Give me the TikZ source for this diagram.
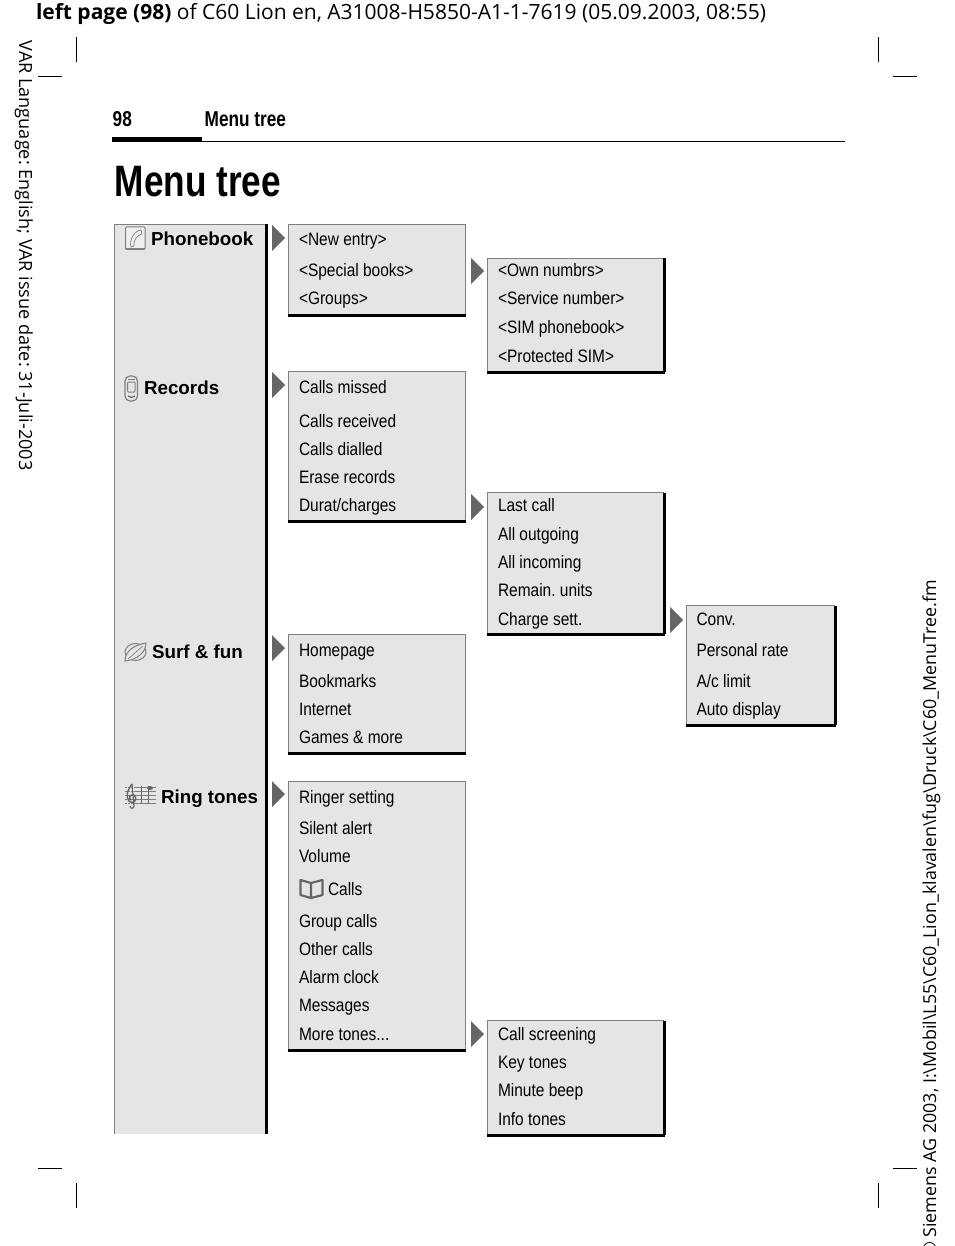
\documentclass[tikz,border=0pt]{standalone}
\usepackage{fontspec}
\setmainfont{Liberation Sans}
\newfontfamily\narrowf[FakeStretch=0.86]{Liberation Sans}
\newfontfamily\narrowb[FakeStretch=0.80]{Liberation Sans Bold}
\newfontfamily\headf{Open Sans}
\definecolor{panel}{HTML}{E5E5E5}
\definecolor{edge}{HTML}{808080}
\definecolor{tri}{HTML}{666666}
\tikzset{
  item/.style={anchor=base west,inner sep=0pt,outer sep=0pt,font=\narrowf\frenchspacing\fontsize{18}{20}\selectfont},
  main/.style={anchor=base west,inner sep=0pt,outer sep=0pt,font=\bfseries\fontsize{18.8}{21}\selectfont},
  head/.style={anchor=base west,inner sep=0pt,outer sep=0pt,font=\headf\frenchspacing\fontsize{21}{24}\selectfont},
  side/.style={inner sep=0pt,outer sep=0pt,font=\headf\frenchspacing\fontsize{18.1}{20}\selectfont},
  sidepath/.style={inner sep=0pt,outer sep=0pt,font=\headf\frenchspacing\fontsize{17.85}{20}\selectfont},
  crop/.style={draw=black,line width=1pt},
  icon/.style={draw=edge,line width=1pt},
  tip/.style={fill=tri,draw=none}
}
% name, x0,y0,x1,y1, right colour, right width
\newcommand{\menubox}[7]{%
  \fill[panel] (#2,#3) rectangle (#4,#5);
  \coordinate (#1nw) at (#2,#3);
  \coordinate (#1ne) at (#4,#3);
  \coordinate (#1sw) at (#2,#5);
  \coordinate (#1se) at (#4,#5);
  \draw[edge,line width=1.6pt] (#1sw) -- (#1nw) -- (#1ne);
  \draw[#6,line width=#7pt] (#1ne) -- (#1se);
  \draw[black,line width=3pt] ([xshift=-0.8pt]#1sw) -- ([xshift=0.8pt]#1se);
}
\newcommand{\tipat}[3]{%
  \coordinate (#1) at (#2,#3);
  \fill[tip] ([shift={(0,-13)}]#1) -- ([shift={(13,0)}]#1) -- ([shift={(0,13)}]#1) -- cycle;
}
\begin{document}
\begin{tikzpicture}[x=1pt,y=-1pt]
\useasboundingbox (0,0) rectangle (954,1246);
\clip (0,0) rectangle (954,1246);
\fill[white] (0,0) rectangle (954,1246);

% header line
\node[head] (hd) at (36,20) {\textbf{left page (98)} of C60 Lion en, A31008-H5850-A1-1-7619 (05.09.2003, 08:55)};
\node[side,rotate=-90,anchor=base west] (varl) at (19,41) {VAR Language: English; VAR issue date: 31-Juli-2003};
\node[sidepath,rotate=90,anchor=base east] (path) at (936,580) {\textcopyright{} Siemens AG 2003, I:\textbackslash Mobil\textbackslash L55\textbackslash C60\_Lion\_klavalen\textbackslash fug\textbackslash Druck\textbackslash C60\_MenuTree.fm};

% crop marks
\draw[crop] (76,37) -- (76,62);
\draw[crop] (38,76.5) -- (62,76.5);
\draw[crop] (878.5,37) -- (878.5,62);
\draw[crop] (893,76.5) -- (917,76.5);
\draw[crop] (38,1168) -- (62,1168);
\draw[crop] (76,1183) -- (76,1208);
\draw[crop] (893,1168) -- (917,1168);
\draw[crop] (878.5,1183) -- (878.5,1208);

% page head
\node[anchor=base west,inner sep=0pt,font=\narrowb\fontsize{21.5}{24}\selectfont] (pn) at (112.5,127) {98};
\node[anchor=base west,inner sep=0pt,font=\narrowb\fontsize{21.5}{24}\selectfont] (pt) at (204.5,127) {Menu tree};
\draw[black,line width=1pt] (112,141.5) -- (845,141.5);
\fill[black] (112,137) rectangle (202,142);
\node[anchor=base west,inner sep=0pt,font=\narrowb\fontsize{44}{48}\selectfont] (title) at (114.5,197) {Menu tree};

% main column
\fill[panel] (114,224) rectangle (267,1134);
\draw[edge,line width=1.6pt] (114.5,1134) -- (114.5,224.5) -- (266,224.5);
\draw[black,line width=3pt] (266.5,224) -- (266.5,1134);

\node[main] (m1) at (151,246) {Phonebook};
\node[main] (m2) at (144,394) {Records};
\node[main] (m3) at (152,658) {Surf \& fun};
\node[main] (m4) at (161,803) {Ring tones};

% phone icon
\draw[icon,fill=panel!60!white,rounded corners=1pt] (125.5,227) rectangle (145,249.5);
\draw[edge,line width=0.8pt] (126,248.5) -- (145,248.5);
\draw[icon,line width=0.7pt] (141,230) .. controls (134,231) and (129,240) .. (131,247) -- (134,246) .. controls (133,241) and (137,235) .. (142,234) -- cycle;
% mobile icon
\draw[icon,rounded corners=5pt,line width=1.2pt] (125,376) rectangle (137.5,401);
\draw[icon,rounded corners=1pt] (127.5,382) rectangle (135,392);
\draw[edge,line width=1pt] (128,379) -- (135,379);
\draw[tri,line width=1.2pt] (128,396) .. controls (130,398) and (133,398) .. (135,396);
% globe icon
\draw[icon] (135.5,652) ellipse [x radius=10.5,y radius=8.5];
\draw[icon,fill=panel] (125,661) .. controls (125,651) and (134,645) .. (146,643) .. controls (146,652) and (137,660) .. (125,661) -- cycle;
\draw[icon,line width=0.7pt] (128,659) .. controls (133,655) and (138,650) .. (143,646);
% staff icon
\foreach \yy in {787,791,795,799,803} {
  \draw[edge,line width=0.8pt] (134,\yy) -- (156,\yy);
  \draw[edge,line width=0.8pt,dash pattern=on 1.5pt off 1.5pt] (125,\yy) -- (134,\yy);
}
\draw[tri,line width=1.4pt] (132,784) .. controls (127,791) and (125,797) .. (130,802) .. controls (135,804) and (138,798) .. (134,795) .. controls (130,794) and (128,798) .. (131,800);
\draw[tri,line width=1.2pt] (132,784) -- (134,806) .. controls (134,809) and (130,809) .. (130,806);
\draw[tri,line width=1pt] (141,786) -- (141,804) (148,786) -- (148,804);
\fill[tri] (150,788) ellipse [x radius=3,y radius=2];

% tips
\tipat{t1}{272}{238}
\tipat{t2}{272}{385}
\tipat{t3}{272}{648}
\tipat{t4}{272}{794}
\tipat{t5}{471}{271}
\tipat{t6}{471}{507}
\tipat{t7}{670}{620}
\tipat{t8}{471}{1034}

% sub-menu boxes
\menubox{a}{288.5}{224.5}{465.5}{315}{edge}{1.6}
\menubox{b}{487.5}{258.5}{664}{372}{black}{3}
\menubox{c}{288.5}{371.5}{465.5}{521}{edge}{1.6}
\menubox{d}{487.5}{492.5}{664}{634}{black}{3}
\menubox{e}{686.5}{605.5}{835}{725}{black}{3}
\menubox{f}{288.5}{634.5}{465.5}{753}{edge}{1.6}
\menubox{g}{288.5}{781.5}{465.5}{1050}{edge}{1.6}
\menubox{h}{487.5}{1020.5}{664}{1135}{black}{3}

% items
\node[item] (a1) at (299,246) {<New entry>};
\node[item] (a2) at (299,277) {<Special books>};
\node[item] (a3) at (299,305) {<Groups>};

\node[item] (b1) at (498,277) {<Own numbrs>};
\node[item] (b2) at (498,305) {<Service number>};
\node[item] (b3) at (498,333.5) {<SIM phonebook>};
\node[item] (b4) at (498,362) {<Protected SIM>};

\node[item] (c1) at (299,393.5) {Calls missed};
\node[item] (c2) at (299,427) {Calls received};
\node[item] (c3) at (299,455) {Calls dialled};
\node[item] (c4) at (299,483) {Erase records};
\node[item] (c5) at (299,511) {Durat/charges};

\node[item] (d1) at (498,511) {Last call};
\node[item] (d2) at (498,540) {All outgoing};
\node[item] (d3) at (498,568) {All incoming};
\node[item] (d4) at (498,596) {Remain. units};
\node[item] (d5) at (498,625) {Charge sett.};

\node[item] (e1) at (696.5,625) {Conv.};
\node[item] (e2) at (696.5,656) {Personal rate};
\node[item] (e3) at (696.5,687) {A/c limit};
\node[item] (e4) at (696.5,715) {Auto display};

\node[item] (f1) at (299,656) {Homepage};
\node[item] (f2) at (299,687) {Bookmarks};
\node[item] (f3) at (299,715) {Internet};
\node[item] (f4) at (299,743) {Games \& more};

\node[item] (g1) at (299,803) {Ringer setting};
\node[item] (g2) at (299,834) {Silent alert};
\node[item] (g3) at (299,862) {Volume};
\node[item] (g4) at (328,895) {Calls};
\node[item] (g5) at (299,927) {Group calls};
\node[item] (g6) at (299,955) {Other calls};
\node[item] (g7) at (299,983) {Alarm clock};
\node[item] (g8) at (299,1011) {Messages};
\node[item] (g9) at (299,1040) {More tones...};

\node[item] (h1) at (498,1040) {Call screening};
\node[item] (h2) at (498,1068) {Key tones};
\node[item] (h3) at (498,1096) {Minute beep};
\node[item] (h4) at (498,1125) {Info tones};

% book icon
\draw[draw=tri,line width=2.2pt,line join=round] (311,883) -- (300.5,880) -- (300.5,895) -- (311,898) -- (322.5,895) -- (322.5,880) -- cycle (311,883) -- (311,898);
\end{tikzpicture}
\end{document}
